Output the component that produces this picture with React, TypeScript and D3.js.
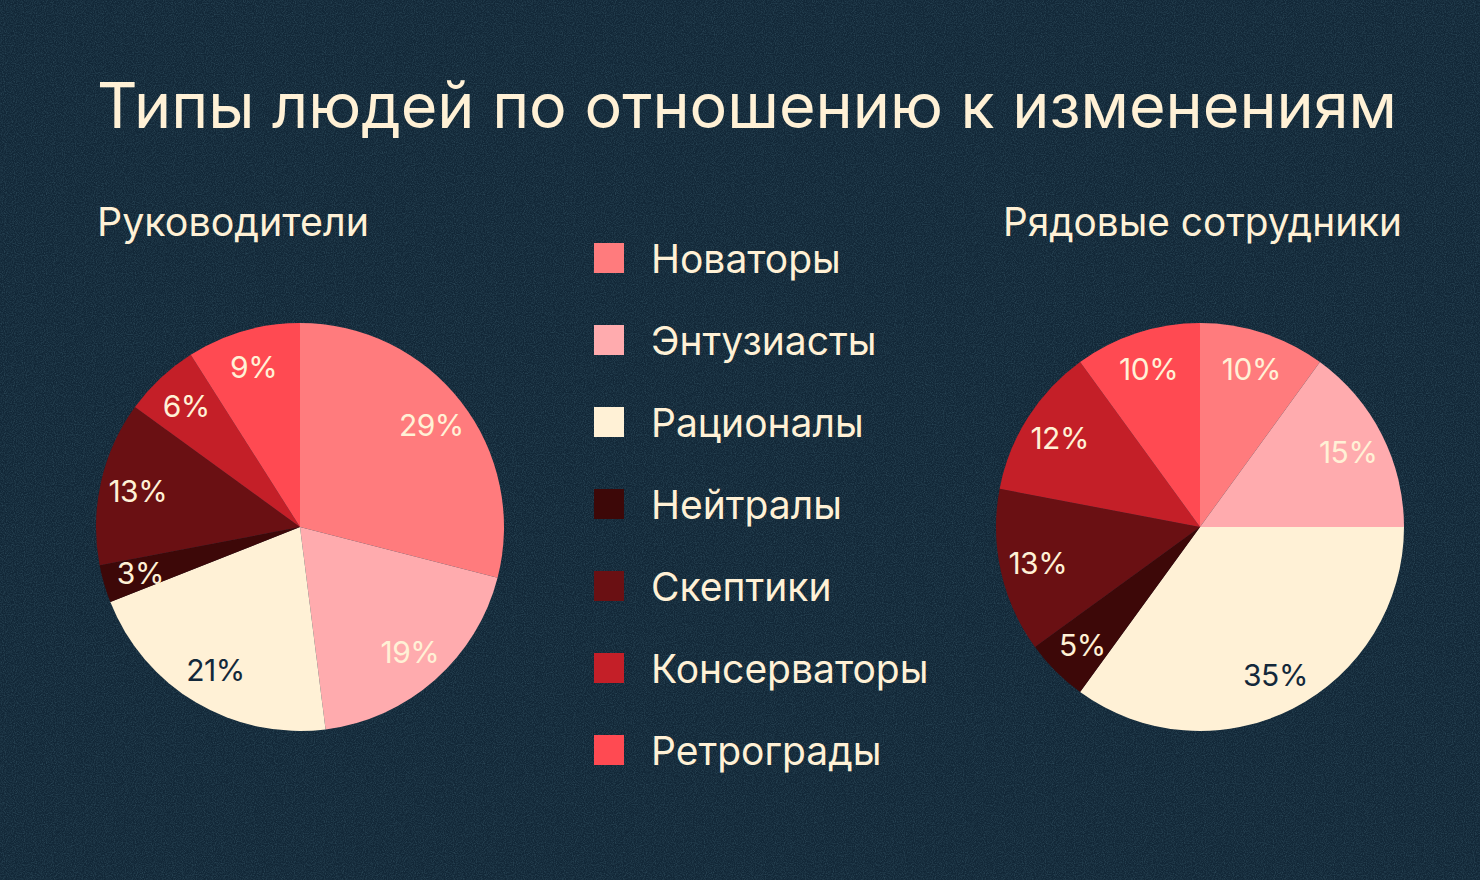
import React from "react";
import * as d3 from "d3";

const categories = ["Новаторы", "Энтузиасты", "Рационалы", "Нейтралы", "Скептики", "Консерваторы", "Ретрограды"];
const managersValues = [29, 19, 21, 3, 13, 6, 9];
const employeesValues = [10, 15, 35, 5, 13, 12, 10];
const colors = ["#ff7b7d", "#ffabae", "#fff1d6", "#3d0808", "#6a1013", "#c41f28", "#ff4a52"];
const title = "Типы людей по отношению к изменениям";
const managersTitle = "Руководители";
const employeesTitle = "Рядовые сотрудники";

const W = 1480;
const H = 880;
const BG = "#122737";
const CREAM = "#fff1d6";
const FONT = "Inter, 'Noto Sans', sans-serif";

function Pie({ values, cx, cy, r }: { values: number[]; cx: number; cy: number; r: number }) {
  const pie = d3.pie<number>().sort(null).value((d) => d)(values);
  const arc = d3.arc<d3.PieArcDatum<number>>().innerRadius(0).outerRadius(r);
  const labelArc = d3.arc<d3.PieArcDatum<number>>().innerRadius(r * 0.815).outerRadius(r * 0.815);
  return (
    <g transform={`translate(${cx},${cy})`}>
      {pie.map((p, i) => (
        <path key={i} d={arc(p) || ""} fill={colors[i]} />
      ))}
      {pie.map((p, i) => {
        const [x, y] = labelArc.centroid(p);
        return (
          <text
            key={"l" + i}
            x={x}
            y={y}
            textAnchor="middle"
            dominantBaseline="central"
            fontSize={30}
            fontFamily={FONT}
            letterSpacing={-0.5}
            fill={i === 2 ? "#13283a" : CREAM}
          >
            {p.data}%
          </text>
        );
      })}
    </g>
  );
}

export default function App() {
  const legendY = d3.scalePoint<string>().domain(categories).range([258, 750]);
  return (
    <svg
      width={W}
      height={H}
      viewBox={`0 0 ${W} ${H}`}
      style={{ position: "fixed", top: 0, left: 0, display: "block" }}
    >
      <defs>
        <filter id="grain" x="0" y="0" width="100%" height="100%">
          <feTurbulence type="fractalNoise" baseFrequency="0.9" numOctaves="2" stitchTiles="stitch" />
          <feColorMatrix
            type="matrix"
            values="0 0 0 0 0.2  0 0 0 0 0.45  0 0 0 0 0.55  0 0 0 1.2 -0.45"
          />
          <feComponentTransfer>
            <feFuncA type="linear" slope="0.35" />
          </feComponentTransfer>
        </filter>
      </defs>
      <rect width={W} height={H} fill={BG} />
      <rect width={W} height={H} filter="url(#grain)" />
      <text
        x={97}
        y={128}
        fontSize={63}
        fontFamily={FONT}
        fill={CREAM}
        textLength={1300}
        lengthAdjust="spacingAndGlyphs"
      >
        {title}
      </text>
      <text x={97} y={236} fontSize={39} fontFamily={FONT} fill={CREAM} textLength={272} lengthAdjust="spacingAndGlyphs">
        {managersTitle}
      </text>
      <text x={1003} y={236} fontSize={39} fontFamily={FONT} fill={CREAM} textLength={399} lengthAdjust="spacingAndGlyphs">
        {employeesTitle}
      </text>
      <Pie values={managersValues} cx={300} cy={527} r={204} />
      <Pie values={employeesValues} cx={1200} cy={527} r={204} />
      {categories.map((c, i) => {
        const y = legendY(c) as number;
        return (
          <g key={c}>
            <rect x={594} y={y - 15} width={30} height={30} fill={colors[i]} />
            <text x={651} y={y} dominantBaseline="central" fontSize={39} fontFamily={FONT} fill={CREAM}>
              {c}
            </text>
          </g>
        );
      })}
    </svg>
  );
}
